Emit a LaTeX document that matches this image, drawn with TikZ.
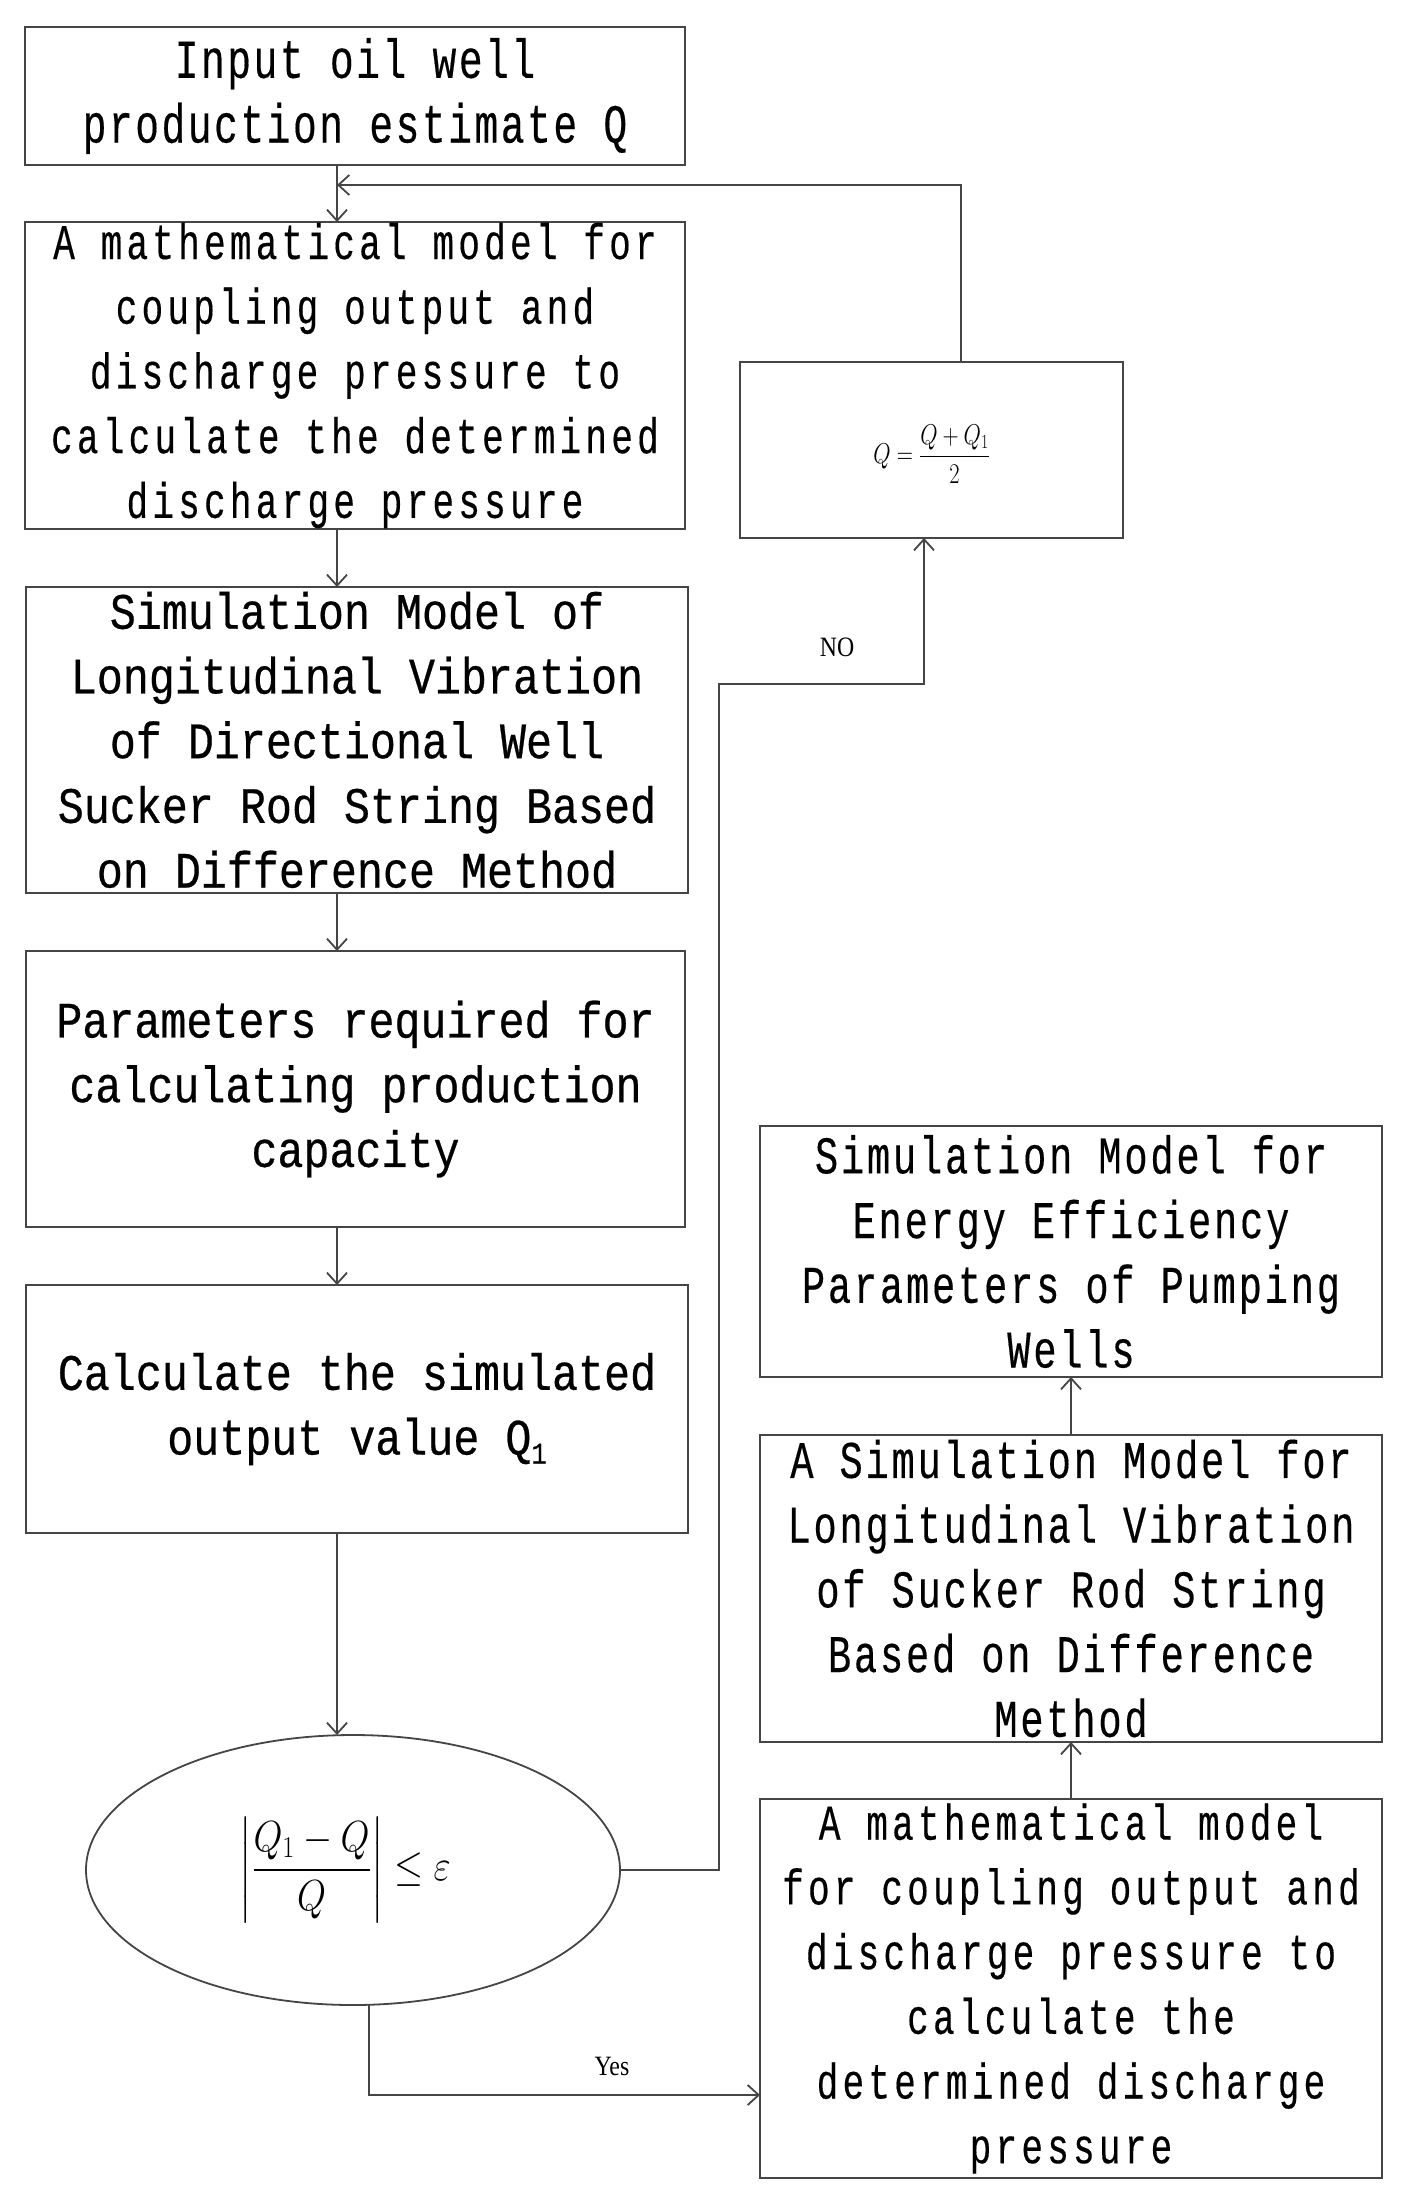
\documentclass[tikz,border=0pt]{standalone}
\usepackage{fontspec}
\usepackage{amsmath}
\usepackage{graphicx}
\usetikzlibrary{arrows.meta,shapes.geometric,calc}
\newfontfamily\fnA[FakeStretch=0.72,LetterSpace=4.6,FakeBold=0.3]{Liberation Mono}
\newfontfamily\fnB[FakeStretch=0.72,LetterSpace=8.5,FakeBold=0.3]{Liberation Mono}
\newfontfamily\fnC[FakeStretch=0.73,LetterSpace=5.3,FakeBold=0.3]{Liberation Mono}
\newfontfamily\fnW[FakeStretch=0.85,FakeBold=0.5]{Liberation Mono}
\newfontfamily\labfont[FakeStretch=0.85]{Liberation Serif}
\definecolor{linec}{HTML}{454545}
\newcommand{\subone}{{\fontsize{30}{30}\selectfont\raisebox{-9pt}{1}}}
\begin{document}
\begin{tikzpicture}[x=1pt,y=-1pt,
  box/.style={draw=linec, line width=2.5pt, inner sep=0pt, outer sep=0pt, rectangle},
  ovalbox/.style={draw=linec, line width=1.8pt, inner sep=0pt, outer sep=0pt, ellipse},
  txt/.style={align=center, inner sep=0pt, text=black},
  styA/.style={txt, font=\fnA\fontsize{55}{64.7}\selectfont},
  styB/.style={txt, font=\fnB\fontsize{50}{64.7}\selectfont},
  styC/.style={txt, font=\fnC\fontsize{53}{64.7}\selectfont},
  styW/.style={txt, font=\fnW\fontsize{51}{64.7}\selectfont},
  lab/.style={inner sep=0pt, font=\labfont\fontsize{28}{30}\selectfont},
  conn/.style={draw=linec, line width=2pt},
  arr/.style={conn, -{Straight Barb[length=11pt,width=20pt,line width=1.8pt]}}]
\useasboundingbox[fill=white] (0,0) rectangle (1407,2207);

% boxes
\node[box, minimum width=660pt, minimum height=138pt] (b1) at (355,96) {};
\node[box, minimum width=660pt, minimum height=307pt] (b2) at (355,375.5) {};
\node[box, minimum width=662pt, minimum height=306pt] (b3) at (357,740) {};
\node[box, minimum width=659pt, minimum height=276pt] (b4) at (355.5,1089) {};
\node[box, minimum width=662pt, minimum height=248pt] (b5) at (357,1409) {};
\node[ovalbox, minimum width=534pt, minimum height=270pt] (el) at (353,1870) {};
\node[box, minimum width=383pt, minimum height=176pt] (bq) at (931.5,450) {};
\node[box, minimum width=622pt, minimum height=251pt] (r1) at (1071,1251.5) {};
\node[box, minimum width=622pt, minimum height=307pt] (r2) at (1071,1588.5) {};
\node[box, minimum width=622pt, minimum height=379pt] (r3) at (1071,1988.5) {};

% texts
\node[styA] (t1) at (b1.center) {Input oil well\\production estimate Q};
\node[styB] (t2) at (b2.center) {A mathematical model for\\coupling output and\\discharge pressure to\\calculate the determined\\discharge pressure};
\node[styW] (t3) at (b3.center) {Simulation Model of\\Longitudinal Vibration\\of Directional Well\\Sucker Rod String Based\\on Difference Method};
\node[styW] (t4) at (b4.center) {Parameters required for\\calculating production\\capacity};
\node[styW] (t5) at (b5.center) {Calculate the simulated\\output value Q\subone};
\node[styC] (tr1) at (r1.center) {Simulation Model for\\Energy Efficiency\\Parameters of Pumping\\Wells};
\node[styC] (tr2) at (r2.center) {A Simulation Model for\\Longitudinal Vibration\\of Sucker Rod String\\Based on Difference\\Method};
\node[styB] (tr3) at (r3.center) {A mathematical model\\for coupling output and\\discharge pressure to\\calculate the\\determined discharge\\pressure};
\node[inner sep=0pt, font=\fontsize{24}{28}\selectfont, yshift=-4pt] (fq) at (bq.center) {\scalebox{0.9}[1.15]{$Q=\dfrac{Q+Q_1}{2}$}};
\node[inner sep=0pt, font=\fontsize{24}{28}\selectfont, xshift=-8pt] (fe) at (el.center) {\scalebox{1.5}[1.75]{$\left|\dfrac{Q_1-Q}{Q}\right|\le\varepsilon$}};

% helper coordinates
\coordinate (cL) at (337,0);
\coordinate (cq) at (924,0);
\coordinate (cq2) at (961,0);
\coordinate (cy) at (369,0);
\coordinate (k1) at (719,684);
\coordinate (j1) at (337,185);
\coordinate (k2) at (0,2095);

% connectors
\draw[arr] (b1.south -| cL) -- (b2.north -| cL);
\draw[arr] (b2.south -| cL) -- (b3.north -| cL);
\draw[arr] (b3.south -| cL) -- (b4.north -| cL);
\draw[arr] (b4.south -| cL) -- (b5.north -| cL);
\draw[arr] (b5.south -| cL) -- (el.north -| cL);
\draw[arr] (el.east) -| (k1) -| (bq.south -| cq);
\draw[arr] (bq.north -| cq2) |- (j1);
\draw[arr] (el.south -| cy) |- (r3.west |- k2);
\draw[arr] (r3.north) -- (r2.south);
\draw[arr] (r2.north) -- (r1.south);

\node[lab] (no) at (837,647) {NO};
\node[lab] (yes) at (612,2066) {Yes};
\end{tikzpicture}
\end{document}
